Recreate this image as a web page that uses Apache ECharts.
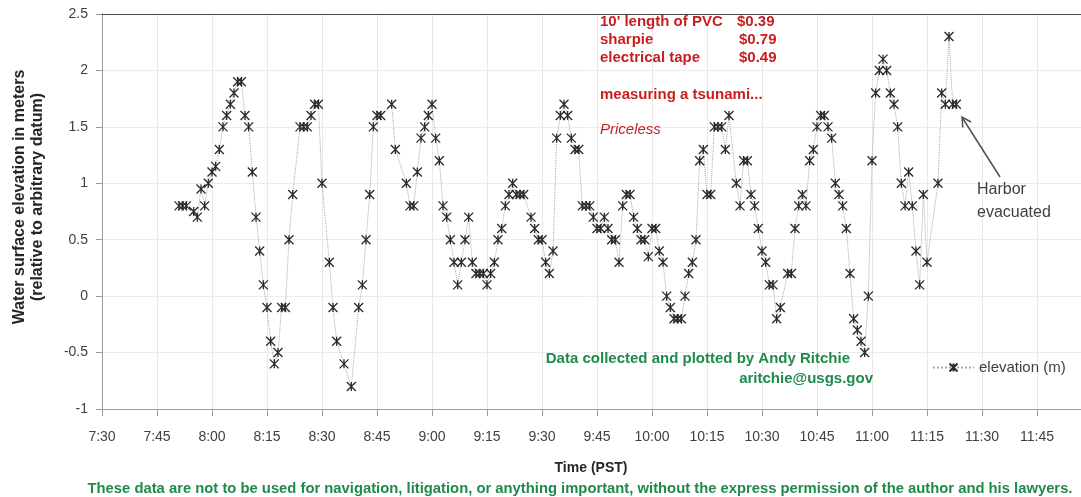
<!DOCTYPE html>
<html>
<head>
<meta charset="utf-8">
<title>Tsunami water surface elevation</title>
<script src="https://cdn.jsdelivr.net/npm/echarts@6/dist/echarts.min.js"></script>
<style>
  html, body { margin: 0; padding: 0; background: #fff; }
  #chart { width: 1081px; height: 497px; }
</style>
</head>
<body>
<div id="chart"></div>
<script>
// time of reading, minutes after midnight (PST)
var times = [
  471, 472, 473, 475, 476, 477, 478, 479, 480, 481,
  482, 483, 484, 485, 486, 487, 488, 489, 490, 491,
  492, 493, 494, 495, 496, 497, 498, 499, 500, 501,
  502, 504, 505, 506, 507, 508, 509, 510, 512, 513,
  514, 516, 518, 520, 521, 522, 523, 524, 525, 526,
  529, 530, 533, 534, 535, 536, 537, 538, 539, 540,
  541, 542, 543, 544, 545, 546, 547, 548, 549, 550,
  551, 552, 553, 554, 555, 556, 557, 558, 559, 560,
  561, 562, 563, 564, 565, 567, 568, 569, 570, 571,
  572, 573, 574, 575, 576, 577, 578, 579, 580, 581,
  582, 583, 584, 585, 586, 587, 588, 589, 590, 591,
  592, 593, 594, 595, 596, 597, 598, 599, 600, 601,
  602, 603, 604, 605, 606, 607, 608, 609, 610, 611,
  612, 613, 614, 615, 616, 617, 618, 619, 620, 621,
  623, 624, 625, 626, 627, 628, 629, 630, 631, 632,
  633, 634, 635, 637, 638, 639, 640, 641, 642, 643,
  644, 645, 646, 647, 648, 649, 650, 651, 652, 653,
  654, 655, 656, 657, 658, 659, 660, 661, 662, 663,
  664, 665, 666, 667, 668, 669, 670, 671, 672, 673,
  674, 675, 678, 679, 680, 681, 682, 683
];
// elevation (m)
var elevation = [
  0.8, 0.8, 0.8, 0.75, 0.7, 0.95, 0.8, 1.0, 1.1, 1.15,
  1.3, 1.5, 1.6, 1.7, 1.8, 1.9, 1.9, 1.6, 1.5, 1.1,
  0.7, 0.4, 0.1, -0.1, -0.4, -0.6, -0.5, -0.1, -0.1, 0.5,
  0.9, 1.5, 1.5, 1.5, 1.6, 1.7, 1.7, 1.0, 0.3, -0.1,
  -0.4, -0.6, -0.8, -0.1, 0.1, 0.5, 0.9, 1.5, 1.6, 1.6,
  1.7, 1.3, 1.0, 0.8, 0.8, 1.1, 1.4, 1.5, 1.6, 1.7,
  1.4, 1.2, 0.8, 0.7, 0.5, 0.3, 0.1, 0.3, 0.5, 0.7,
  0.3, 0.2, 0.2, 0.2, 0.1, 0.2, 0.3, 0.5, 0.6, 0.8,
  0.9, 1.0, 0.9, 0.9, 0.9, 0.7, 0.6, 0.5, 0.5, 0.3,
  0.2, 0.4, 1.4, 1.6, 1.7, 1.6, 1.4, 1.3, 1.3, 0.8,
  0.8, 0.8, 0.7, 0.6, 0.6, 0.7, 0.6, 0.5, 0.5, 0.3,
  0.8, 0.9, 0.9, 0.7, 0.6, 0.5, 0.5, 0.35, 0.6, 0.6,
  0.4, 0.3, 0.0, -0.1, -0.2, -0.2, -0.2, 0.0, 0.2, 0.3,
  0.5, 1.2, 1.3, 0.9, 0.9, 1.5, 1.5, 1.5, 1.3, 1.6,
  1.0, 0.8, 1.2, 1.2, 0.9, 0.8, 0.6, 0.4, 0.3, 0.1,
  0.1, -0.2, -0.1, 0.2, 0.2, 0.6, 0.8, 0.9, 0.8, 1.2,
  1.3, 1.5, 1.6, 1.6, 1.5, 1.4, 1.0, 0.9, 0.8, 0.6,
  0.2, -0.2, -0.3, -0.4, -0.5, 0.0, 1.2, 1.8, 2.0, 2.1,
  2.0, 1.8, 1.7, 1.5, 1.0, 0.8, 1.1, 0.8, 0.4, 0.1,
  0.9, 0.3, 1.0, 1.8, 1.7, 2.3, 1.7, 1.7
];
var xTickLabels = ['7:30', '7:45', '8:00', '8:15', '8:30', '8:45', '9:00', '9:15', '9:30',
  '9:45', '10:00', '10:15', '10:30', '10:45', '11:00', '11:15', '11:30', '11:45'];
var yTicks = [-1, -0.5, 0, 0.5, 1, 1.5, 2, 2.5];

var xMin = 450, xMax = 717, xStep = 15;
var FONT = '"Liberation Sans", Arial, sans-serif';
var RED = '#c81e1e', GREEN = '#1f8a4c', GREY = '#404040';

var points = [];
for (var i = 0; i < times.length; i++) {
  points.push([times[i], elevation[i]]);
}

var chart = echarts.init(document.getElementById('chart'), null, { renderer: 'canvas' });

function note(x, y, text, font, fill, align) {
  return {
    type: 'text', x: x, y: y, z: 100,
    style: { text: text, font: font, fill: fill, align: align || 'left', verticalAlign: 'middle' }
  };
}

var option = {
  animation: false,
  grid: { left: 102, right: 0, top: 14, bottom: 88 },
  legend: {
    left: 932,
    top: 360,
    padding: 0,
    itemWidth: 41,
    itemHeight: 10,
    itemGap: 4,
    textStyle: { color: GREY, fontSize: 15, fontFamily: FONT },
    data: ['elevation (m)']
  },
  xAxis: [{
    type: 'value',
    min: xMin,
    max: xMax,
    interval: xStep,
    axisLine: { onZero: false, lineStyle: { color: '#9a9a9a' } },
    axisTick: { length: 7, lineStyle: { color: '#9a9a9a' } },
    axisLabel: {
      color: GREY, fontSize: 14, fontFamily: FONT, margin: 21, showMaxLabel: false,
      formatter: function (v) {
        var k = (v - xMin) / xStep;
        return xTickLabels[k] || '';
      }
    },
    splitLine: { lineStyle: { color: '#e8e8e8' } }
  }, {
    type: 'value',
    position: 'top',
    min: xMin,
    max: xMax,
    axisLine: { show: true, onZero: false, lineStyle: { color: '#4a4a4a', width: 1.2 } },
    axisTick: { show: false },
    axisLabel: { show: false },
    splitLine: { show: false }
  }],
  yAxis: {
    type: 'value',
    min: yTicks[0],
    max: yTicks[yTicks.length - 1],
    interval: 0.5,
    axisLine: { show: true, lineStyle: { color: '#9a9a9a' } },
    axisTick: { show: true, length: 6, lineStyle: { color: '#9a9a9a' } },
    axisLabel: { color: GREY, fontSize: 14, fontFamily: FONT, margin: 14 },
    splitLine: { lineStyle: { color: '#ececec' } }
  },
  series: [{
    name: 'elevation (m)',
    type: 'line',
    data: points,
    symbol: 'path://M0,0L10,10M10,0L0,10M5,0L5,10',
    symbolSize: 9,
    itemStyle: { color: 'none', borderColor: '#2a2a2a', borderWidth: 1.3 },
    lineStyle: { color: '#a8a8a8', width: 1, type: 'dotted' },
    emphasis: { disabled: true }
  }],
  graphic: [
    // y axis title
    { type: 'text', x: 20, y: 197, rotation: Math.PI / 2, z: 100,
      style: { text: 'Water surface elevation in meters', font: 'bold 16px ' + FONT, fill: '#262626', align: 'center', verticalAlign: 'middle' } },
    { type: 'text', x: 38, y: 197, rotation: Math.PI / 2, z: 100,
      style: { text: '(relative to arbitrary datum)', font: 'bold 16px ' + FONT, fill: '#262626', align: 'center', verticalAlign: 'middle' } },
    // x axis title
    note(591, 468, 'Time (PST)', 'bold 14px ' + FONT, '#262626', 'center'),
    // cost list
    note(600, 22, "10' length of PVC", 'bold 15px ' + FONT, RED),
    note(737, 22, '$0.39', 'bold 15px ' + FONT, RED),
    note(600, 40, 'sharpie', 'bold 15px ' + FONT, RED),
    note(739, 40, '$0.79', 'bold 15px ' + FONT, RED),
    note(600, 58, 'electrical tape', 'bold 15px ' + FONT, RED),
    note(739, 58, '$0.49', 'bold 15px ' + FONT, RED),
    note(600, 95, 'measuring a tsunami...', 'bold 15px ' + FONT, RED),
    note(600, 130, 'Priceless', 'italic 15px ' + FONT, RED),
    // credit
    note(850, 359, 'Data collected and plotted by Andy Ritchie', 'bold 15px ' + FONT, GREEN, 'right'),
    note(873, 379, 'aritchie@usgs.gov', 'bold 15px ' + FONT, GREEN, 'right'),
    // disclaimer
    note(580, 489, 'These data are not to be used for navigation, litigation, or anything important, without the express permission of the author and his lawyers.', 'bold 14.8px ' + FONT, GREEN, 'center'),
    // harbor note + arrow
    note(977, 190, 'Harbor', '16px ' + FONT, GREY),
    note(977, 213, 'evacuated', '16px ' + FONT, GREY),
    { type: 'line', z: 100, shape: { x1: 1000, y1: 177, x2: 962.5, y2: 118 }, style: { stroke: '#505050', lineWidth: 1.5 } },
    { type: 'polyline', z: 100, shape: { points: [[962.8, 127.5], [962, 117], [971, 122]] }, style: { stroke: '#505050', lineWidth: 1.5, fill: null } }
  ]
};

chart.setOption(option);
</script>
</body>
</html>
